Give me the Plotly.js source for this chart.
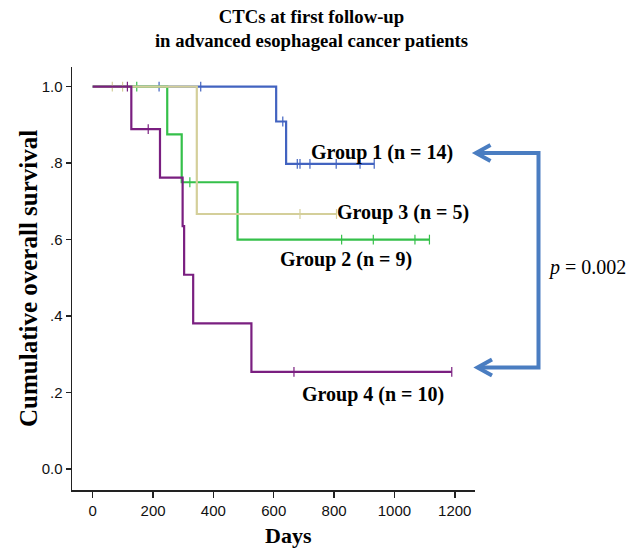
<!DOCTYPE html>
<html>
<head>
<meta charset="utf-8">
<script src="https://cdn.plot.ly/plotly-3.0.1.min.js"></script>
<style>html,body{margin:0;padding:0;background:#fff;}#chart{width:641px;height:549px;}</style>
</head>
<body>
<div id="chart"></div>
<script>
// ---- Data (days, cumulative survival) ----
const groupNames = ["Group 1 (n = 14)", "Group 2 (n = 9)", "Group 3 (n = 5)", "Group 4 (n = 10)"];

// Step points (Kaplan-Meier curves)
const g1Days = [0, 608, 641, 933];
const g1Surv = [1.0, 0.909, 0.798, 0.798];
const g2Days = [0, 247, 295, 480, 1116];
const g2Surv = [1.0, 0.875, 0.75, 0.6, 0.6];
const g3Days = [0, 345, 808];
const g3Surv = [1.0, 0.667, 0.667];
const g4Days = [0, 128, 223, 298, 303, 333, 526, 1190];
const g4Surv = [1.0, 0.889, 0.762, 0.635, 0.508, 0.381, 0.254, 0.254];

// Censored observations
const g1CensDays = [220, 358, 630, 678, 687, 720, 807, 886, 933];
const g1CensSurv = [1.0, 1.0, 0.909, 0.798, 0.798, 0.798, 0.798, 0.798, 0.798];
const g2CensDays = [146, 322, 825, 930, 1068, 1116];
const g2CensSurv = [1.0, 0.75, 0.6, 0.6, 0.6, 0.6];
const g3CensDays = [65, 99, 687, 808];
const g3CensSurv = [1.0, 1.0, 0.667, 0.667];
const g4CensDays = [115, 184, 667, 1190];
const g4CensSurv = [1.0, 0.889, 0.254, 0.254];

const xTicks = [0, 200, 400, 600, 800, 1000, 1200];
const yTicks = [0, 0.2, 0.4, 0.6, 0.8, 1.0];
const yTickLabels = ["0.0", ".2", ".4", ".6", ".8", "1.0"];
const pValueText = "<i>p</i> = 0.002";

// ---- Styles ----
const colors = {g1: "#4263c0", g2: "#35c04a", g3: "#d4cf9a", g4: "#7a1f80"};
const arrowColor = "#4a7dc1";
const serif = "'Liberation Serif', 'Times New Roman', serif";
const sans = "'Liberation Sans Narrow', 'Arial Narrow', 'Liberation Sans', Arial, sans-serif";

function stepTrace(x, y, color, name) {
  return {x: x, y: y, type: "scatter", mode: "lines", line: {shape: "hv", color: color, width: 2.2},
          name: name, showlegend: false, hoverinfo: "skip"};
}
function censTrace(x, y, color, name) {
  return {x: x, y: y, type: "scatter", mode: "markers",
          marker: {symbol: "line-ns", size: 7, line: {color: color, width: 1.2}},
          name: name + " censored", showlegend: false, hoverinfo: "skip"};
}

const traces = [
  stepTrace(g1Days, g1Surv, colors.g1, groupNames[0]),
  censTrace(g1CensDays, g1CensSurv, colors.g1, groupNames[0]),
  stepTrace(g2Days, g2Surv, colors.g2, groupNames[1]),
  censTrace(g2CensDays, g2CensSurv, colors.g2, groupNames[1]),
  stepTrace(g3Days, g3Surv, colors.g3, groupNames[2]),
  censTrace(g3CensDays, g3CensSurv, colors.g3, groupNames[2]),
  stepTrace(g4Days, g4Surv, colors.g4, groupNames[3]),
  censTrace(g4CensDays, g4CensSurv, colors.g4, groupNames[3])
];

// plot area in pixels: left 72, right 475, top 67, bottom 490
const L = 72, R = 475, T = 67, B = 490;
const px = v => (v - L) / (R - L);
const py = v => (B - v) / (B - T);

const bracket = "M " + px(476) + "," + py(153) + " L " + px(538.5) + "," + py(153) +
                " L " + px(538.5) + "," + py(367.5) + " L " + px(478) + "," + py(367.5);
const chevTop = "M " + px(490.5) + "," + py(145) + " L " + px(476) + "," + py(153) + " L " + px(490.5) + "," + py(161);
const chevBot = "M " + px(492) + "," + py(359.5) + " L " + px(477.5) + "," + py(367.5) + " L " + px(492) + "," + py(375.5);

const labelFont = {family: serif, size: 20, color: "#000", weight: "bold"};

const layout = {
  width: 641, height: 549,
  margin: {l: L, r: 641 - R, t: T, b: 549 - B, pad: 0},
  paper_bgcolor: "#fff", plot_bgcolor: "#fff",
  showlegend: false,
  title: {
    text: "<b>CTCs at first follow-up<br>in advanced esophageal cancer patients</b>",
    font: {family: serif, size: 18.7, color: "#000"},
    x: px(311.5), xref: "paper", xanchor: "center",
    y: 1 - 23 / 549, yref: "container", yanchor: "top"
  },
  xaxis: {
    range: [-68.6, 1267], tickvals: xTicks, ticktext: xTicks.map(String),
    showgrid: false, zeroline: false, showline: true, linecolor: "#222", linewidth: 1.5,
    ticks: "outside", ticklen: 6, tickwidth: 1.5, tickcolor: "#222",
    tickfont: {family: sans, size: 15, color: "#111"},
    fixedrange: true
  },
  yaxis: {
    range: [-0.055, 1.0515], tickvals: yTicks, ticktext: yTickLabels,
    showgrid: false, zeroline: false, showline: true, linecolor: "#222", linewidth: 1.5,
    ticks: "outside", ticklen: 5, tickwidth: 1.5, tickcolor: "#222",
    tickfont: {family: sans, size: 15, color: "#111"},
    fixedrange: true
  },
  shapes: [
    {type: "path", xref: "paper", yref: "paper", path: bracket, line: {color: arrowColor, width: 4}},
    {type: "path", xref: "paper", yref: "paper", path: chevTop, line: {color: arrowColor, width: 4}},
    {type: "path", xref: "paper", yref: "paper", path: chevBot, line: {color: arrowColor, width: 4}}
  ],
  annotations: [
    {text: "<b>" + groupNames[0] + "</b>", x: 716, y: 0.827, xref: "x", yref: "y", xanchor: "left", yanchor: "middle", showarrow: false, font: labelFont},
    {text: "<b>" + groupNames[2] + "</b>", x: 803, y: 0.670, xref: "x", yref: "y", xanchor: "left", yanchor: "middle", showarrow: false, font: labelFont},
    {text: "<b>" + groupNames[1] + "</b>", x: 614, y: 0.547, xref: "x", yref: "y", xanchor: "left", yanchor: "middle", showarrow: false, font: labelFont},
    {text: "<b>" + groupNames[3] + "</b>", x: 687, y: 0.194, xref: "x", yref: "y", xanchor: "left", yanchor: "middle", showarrow: false, font: labelFont},
    {text: pValueText, x: px(546), y: py(267), xref: "paper", yref: "paper", xanchor: "left", yanchor: "middle", showarrow: false, font: {family: serif, size: 20, color: "#000"}},
    {text: "<b>Days</b>", x: px(288), y: py(535), xref: "paper", yref: "paper", xanchor: "center", yanchor: "middle", showarrow: false, font: {family: serif, size: 22, color: "#000"}},
    {text: "<b>Cumulative overall survival</b>", x: px(28), y: py(279), xref: "paper", yref: "paper", xanchor: "center", yanchor: "middle", textangle: -90, showarrow: false, font: {family: serif, size: 25, color: "#000"}}
  ]
};

Plotly.newPlot("chart", traces, layout, {displayModeBar: false, staticPlot: true});
</script>
</body>
</html>
